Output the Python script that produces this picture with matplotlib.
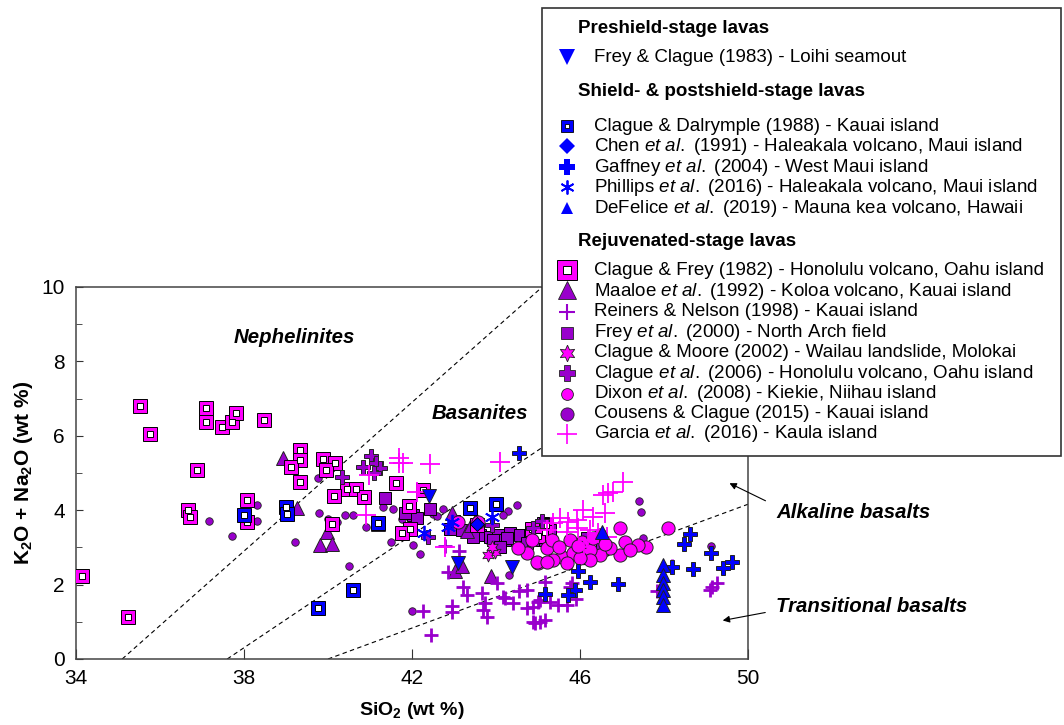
import matplotlib
matplotlib.use("Agg")
import matplotlib.pyplot as plt
from matplotlib.patches import Rectangle

plt.rcParams['font.family'] = ['Liberation Sans', 'DejaVu Sans']
plt.rcParams['mathtext.fontset'] = 'custom'
plt.rcParams['mathtext.rm'] = 'Liberation Sans'
plt.rcParams['mathtext.it'] = 'Liberation Sans:italic'
plt.rcParams['mathtext.bf'] = 'Liberation Sans:bold'

BLUE = '#0000FF'
PURPLE = '#9900CC'
MAGENTA = '#FF00FF'

# ---------------- data (SiO2, K2O+Na2O) ----------------
frey_clague_1983_x = [42.40, 43.10, 44.38]
frey_clague_1983_y = [4.38, 2.58, 2.47]

clague_dalrymple_1988_x = [38.00, 39.00, 39.02, 39.76, 40.60, 43.38, 44.00, 41.19]
clague_dalrymple_1988_y = [3.87, 4.09, 3.90, 1.37, 1.85, 4.06, 4.17, 3.66]

chen_1991_x = [43.55]
chen_1991_y = [3.62]

gaffney_2004_x = [44.55, 48.62, 48.48, 49.12, 49.62, 49.40, 48.69, 48.19, 46.90, 46.24,
                  45.95, 45.88, 45.17, 45.71]
gaffney_2004_y = [5.54, 3.36, 3.09, 2.85, 2.61, 2.45, 2.42, 2.47, 2.02, 2.07,
                  2.37, 1.85, 1.75, 1.72]

phillips_2016_x = [42.29, 42.86, 42.95, 43.90]
phillips_2016_y = [3.39, 3.55, 3.68, 3.82]

defelice_2019_x = [47.98, 47.98, 47.98, 47.98, 47.98, 47.98, 46.52]
defelice_2019_y = [2.53, 2.26, 2.04, 1.85, 1.67, 1.45, 3.41]

clague_frey_1982_x = [34.14, 35.24, 35.52, 35.76, 36.67, 36.71, 36.88, 37.10, 37.10, 37.48,
                      37.71, 37.81, 38.48, 38.07, 38.07, 39.33, 39.33, 39.33, 39.12, 39.88,
                      40.17, 39.95, 40.45, 40.67, 40.86, 40.14, 41.62, 42.26, 40.10, 41.93,
                      41.95, 41.76, 43.55, 45.20, 45.17, 44.85, 45.00]
clague_frey_1982_y = [2.23, 1.13, 6.80, 6.05, 4.00, 3.82, 5.08, 6.75, 6.37, 6.24,
                      6.37, 6.61, 6.42, 4.27, 3.68, 4.76, 5.62, 5.35, 5.16, 5.38,
                      5.27, 5.08, 4.57, 4.57, 4.35, 4.38, 4.73, 4.54, 3.63, 4.11,
                      3.49, 3.38, 3.60, 3.60, 3.41, 3.50, 3.30]

maaloe_1992_x = [38.93, 39.26, 39.98, 39.81, 40.10, 41.19, 42.95, 43.52, 43.31, 43.02,
                 43.20, 43.88, 43.40]
maaloe_1992_y = [5.40, 4.06, 3.41, 3.06, 3.09, 3.63, 3.92, 3.76, 3.44, 2.37,
                 2.50, 2.23, 3.60]

reiners_nelson_1998_x = [43.12, 42.86, 42.79, 43.21, 43.31, 43.67, 43.74, 43.79, 43.69, 42.95,
                         42.95, 42.26, 42.45, 44.02, 44.17, 44.55, 44.74, 44.88, 44.88, 44.21,
                         44.93, 45.17, 45.00, 45.29, 45.48, 45.69, 45.81, 45.17, 44.74, 45.05,
                         45.05, 45.76, 48.19, 47.83, 49.14, 49.26, 49.10, 44.40, 45.90]
reiners_nelson_1998_y = [2.90, 2.34, 3.04, 1.94, 1.72, 1.77, 1.50, 1.13, 1.32, 1.42,
                         1.26, 1.29, 0.65, 2.04, 1.67, 1.83, 1.37, 1.00, 1.40, 1.64,
                         0.97, 1.05, 1.53, 1.53, 1.45, 1.45, 2.04, 2.07, 1.85, 1.59,
                         1.00, 1.94, 2.50, 1.83, 1.94, 2.04, 1.85, 1.50, 1.60]

frey_2000_x = [41.36, 42.43, 42.02, 42.12, 41.83, 43.19, 43.62, 43.86, 44.05, 44.21,
               44.33, 44.57, 44.81, 45.00, 44.74, 43.93, 44.26, 44.88, 44.10, 43.45,
               45.12, 45.29, 46.17, 46.52, 42.90, 43.00]
frey_2000_y = [4.33, 4.03, 3.87, 3.79, 3.92, 3.47, 3.33, 3.28, 3.33, 3.20,
               3.39, 3.33, 3.33, 3.20, 3.12, 3.20, 3.25, 3.20, 3.00, 3.28,
               3.66, 3.47, 3.25, 3.12, 3.50, 3.70]

clague_moore_2002_x = [43.98, 43.81, 43.90]
clague_moore_2002_y = [2.88, 2.80, 3.00]

clague_2006_x = [41.02, 40.83, 41.14, 41.24, 41.10, 40.33, 42.38, 44.88, 45.10, 43.90]
clague_2006_y = [5.46, 5.16, 5.27, 5.13, 5.00, 4.89, 3.28, 3.52, 3.70, 3.60]

dixon_2008_x = [48.10, 47.57, 47.38, 46.95, 47.07, 46.95, 46.71, 46.48, 46.48, 46.24,
                46.05, 45.76, 45.57, 45.36, 45.00, 44.74, 45.21, 45.83, 45.33, 46.24,
                45.69, 43.10, 44.52, 44.98, 43.57, 47.19, 46.00, 45.21, 45.95, 46.31,
                46.60, 44.85, 45.50]
dixon_2008_y = [3.52, 3.00, 3.06, 2.80, 3.15, 3.52, 2.98, 3.33, 2.80, 2.93,
                3.15, 3.20, 2.74, 2.66, 2.58, 2.85, 2.98, 2.85, 3.20, 2.66,
                2.58, 3.68, 2.98, 2.61, 3.68, 2.93, 2.72, 2.61, 3.05, 3.25,
                3.10, 3.20, 3.00]

cousens_clague_2015_x = [37.17, 37.71, 38.31, 38.31, 39.21, 39.76, 39.79, 40.00, 40.40, 40.60,
                         40.50, 41.31, 41.55, 42.74, 42.50, 42.02, 42.20, 41.50, 41.76, 42.00,
                         42.60, 44.29, 44.50, 44.17, 44.30, 47.40, 47.45, 47.50, 49.12, 40.21,
                         40.90]
cousens_clague_2015_y = [3.71, 3.31, 4.14, 3.71, 3.15, 4.87, 3.92, 3.76, 3.87, 3.87,
                         2.50, 4.09, 4.03, 4.03, 3.90, 3.06, 2.82, 3.15, 3.76, 1.29,
                         3.84, 3.98, 4.14, 3.87, 2.26, 4.25, 3.95, 3.25, 3.04, 3.68,
                         3.55]

garcia_2016_x = [41.69, 41.69, 41.79, 42.43, 44.10, 40.98, 40.90, 42.79, 42.12, 47.02,
                 46.67, 46.79, 46.55, 46.60, 46.31, 46.07, 45.93, 45.71, 45.52, 45.36,
                 45.21, 46.43, 46.24, 45.95, 46.64, 45.69, 46.10, 46.20]
garcia_2016_y = [5.40, 5.27, 5.27, 5.24, 5.30, 4.95, 3.87, 3.01, 4.49, 4.76,
                 4.46, 4.50, 4.40, 3.92, 3.82, 4.00, 3.74, 3.68, 3.79, 3.66,
                 3.47, 3.39, 3.47, 3.52, 3.28, 3.41, 3.00, 3.20]

# boundary lines (SiO2, alkali endpoints)
neph_bas_x = [35.10, 46.00]
neph_bas_y = [0.00, 10.90]
bas_alk_x = [37.60, 50.00]
bas_alk_y = [0.00, 9.40]
alk_tra_x = [40.00, 50.00]
alk_tra_y = [0.00, 4.16]

x_ticks = [34, 38, 42, 46, 50]
y_ticks = [0, 2, 4, 6, 8, 10]

# ---------------- figure ----------------
W, H = 1064, 725
fig = plt.figure(figsize=(W / 100, H / 100), dpi=100)
ax = fig.add_axes([76 / W, 1 - 659 / H, (748 - 76) / W, (659 - 287) / H])
ax.set_xlim(34, 50)
ax.set_ylim(0, 10)

for lx, ly in [(neph_bas_x, neph_bas_y), (bas_alk_x, bas_alk_y), (alk_tra_x, alk_tra_y)]:
    ax.plot(lx, ly, ls=(0, (4, 3)), color='black', lw=0.8, zorder=1)


def dsq(x, y, col, outer=9.5, inner=4.3, z=3):
    ax.plot(x, y, 's', ms=outer, mfc=col, mec='black', mew=0.7, ls='none', zorder=z)
    ax.plot(x, y, 's', ms=inner, mfc='white', mec='black', mew=0.7, ls='none', zorder=z)


ax.plot(cousens_clague_2015_x, cousens_clague_2015_y, 'o', ms=5.4, mfc=PURPLE, mec='#222222',
        mew=0.6, ls='none', zorder=2)
ax.plot(frey_2000_x, frey_2000_y, 's', ms=8.2, mfc=PURPLE, mec='black', mew=0.7, ls='none', zorder=3)
ax.plot(maaloe_1992_x, maaloe_1992_y, '^', ms=9.5, mfc=PURPLE, mec='#222222', mew=0.7, ls='none', zorder=3)
dsq(clague_frey_1982_x, clague_frey_1982_y, MAGENTA)
ax.plot(clague_2006_x, clague_2006_y, 'P', ms=10.5, mfc=PURPLE, mec='#222222', mew=0.7, ls='none', zorder=3)
ax.plot(reiners_nelson_1998_x, reiners_nelson_1998_y, '+', ms=9.5, mec=PURPLE, mew=2.0, ls='none', zorder=3)
ax.plot(clague_moore_2002_x, clague_moore_2002_y, marker=(6, 1, 0), ms=9.5, mfc=MAGENTA, mec='#222222',
        mew=0.6, ls='none', zorder=3)
ax.plot(dixon_2008_x, dixon_2008_y, 'o', ms=9.5, mfc=MAGENTA, mec='#222222', mew=0.7, ls='none', zorder=4)
ax.plot(garcia_2016_x, garcia_2016_y, '+', ms=15, mec=MAGENTA, mew=1.3, ls='none', zorder=4)

dsq(clague_dalrymple_1988_x, clague_dalrymple_1988_y, BLUE, z=4)
ax.plot(chen_1991_x, chen_1991_y, 'D', ms=7, mfc=BLUE, mec='black', mew=0.6, ls='none', zorder=4)
ax.plot(frey_clague_1983_x, frey_clague_1983_y, 'v', ms=9.5, mfc=BLUE, mec='#222222', mew=0.7, ls='none', zorder=4)
ax.plot(gaffney_2004_x, gaffney_2004_y, 'P', ms=10.5, mfc=BLUE, mec='#222222', mew=0.7, ls='none', zorder=4)
ax.plot(phillips_2016_x, phillips_2016_y, marker=(6, 2, 0), ms=11, mec=BLUE, mew=1.3, ls='none', zorder=4)
ax.plot(defelice_2019_x, defelice_2019_y, '^', ms=9.5, mfc=BLUE, mec='#222222', mew=0.7, ls='none', zorder=4)

ax.set_xticks(x_ticks)
ax.set_yticks(y_ticks)
ax.set_yticks([1, 3, 5, 7, 9], minor=True)
ax.tick_params(axis='both', which='both', direction='in', labelsize=15, color='#333333')
ax.tick_params(axis='x', which='major', length=7, pad=7)
ax.tick_params(axis='y', which='major', length=5, pad=8)
ax.tick_params(axis='y', which='minor', length=4)
for s in ax.spines.values():
    s.set_color('#444444')
    s.set_linewidth(1.1)

ax.set_xlabel(r'SiO$_\mathbf{2}$ (wt %)', fontsize=14, fontweight='bold', labelpad=9)
ax.set_ylabel(r'K$_\mathbf{2}$O + Na$_\mathbf{2}$O (wt %)', fontsize=15, fontweight='bold', labelpad=5)

ANN = 14.7
ax.text(39.21, 8.63, 'Nephelinites', fontsize=ANN, fontweight='bold', style='italic',
        ha='center', va='center')
ax.text(43.62, 6.59, 'Basanites', fontsize=ANN, fontweight='bold', style='italic',
        ha='center', va='center')

# ---------------- overlay (legend + outside annotations) in pixel coords ----------------
ov = fig.add_axes([0, 0, 1, 1], zorder=10)
ov.set_xlim(0, W)
ov.set_ylim(H, 0)
ov.axis('off')
ov.patch.set_alpha(0)

ov.text(776, 512, 'Alkaline basalts', fontsize=ANN, fontweight='bold', style='italic',
        ha='left', va='center')
ov.text(776, 607, 'Transitional basalts', fontsize=ANN, fontweight='bold', style='italic',
        ha='left', va='center')
ov.annotate('', xy=(727, 482), xytext=(768, 502),
            arrowprops=dict(arrowstyle='-|>', color='black', lw=0.8, mutation_scale=10))
ov.annotate('', xy=(720, 621), xytext=(768, 612),
            arrowprops=dict(arrowstyle='-|>', color='black', lw=0.8, mutation_scale=10))

ov.add_patch(Rectangle((542, 8), 519, 448, facecolor='white', edgecolor='#333333', lw=1.2))

TX = 594
MX = 567
FS = 13.5


def head(y, s):
    ov.text(578, y, s, fontsize=FS, fontweight='bold', ha='left', va='center')


def row(y, parts):
    s = ''.join(p if not it else r'$\it{' + p.replace(' ', r'\ ') + '}$' for p, it in parts)
    ov.text(TX, y, s, fontsize=FS, ha='left', va='center')


head(28, 'Preshield-stage lavas')
ov.plot([MX], [57], 'v', ms=12, mfc=BLUE, mec=BLUE, mew=0)
row(57, [('Frey & Clague (1983) - Loihi seamout', False)])

head(91, 'Shield- & postshield-stage lavas')
ov.plot([MX], [126], 's', ms=8.5, mfc=BLUE, mec='black', mew=0.6)
ov.plot([MX], [126], 's', ms=3.5, mfc='white', mec='black', mew=0.6)
row(126, [('Clague & Dalrymple (1988) - Kauai island', False)])
ov.plot([MX], [146], 'D', ms=8, mfc=BLUE, mec=BLUE, mew=0)
row(146, [('Chen ', False), ('et al.', True), (' (1991) - Haleakala volcano, Maui island', False)])
ov.plot([MX], [167], 'P', ms=12, mfc=BLUE, mec=BLUE, mew=0)
row(167, [('Gaffney ', False), ('et al.', True), (' (2004) - West Maui island', False)])
ov.plot([MX], [187], marker=(6, 2, 0), ms=10, mec=BLUE, mew=1.3)
row(187, [('Phillips ', False), ('et al.', True), (' (2016) - Haleakala volcano, Maui island', False)])
ov.plot([MX], [208], '^', ms=9, mfc=BLUE, mec=BLUE, mew=0)
row(208, [('DeFelice ', False), ('et al.', True), (' (2019) - Mauna kea volcano, Hawaii', False)])

head(241, 'Rejuvenated-stage lavas')
ov.plot([MX], [270], 's', ms=14, mfc=MAGENTA, mec='black', mew=0.7)
ov.plot([MX], [270], 's', ms=6, mfc='white', mec='black', mew=0.7)
row(270, [('Clague & Frey (1982) - Honolulu volcano, Oahu island', False)])
ov.plot([MX], [290], '^', ms=13, mfc=PURPLE, mec='#222222', mew=0.6)
row(291, [('Maaloe ', False), ('et al.', True), (' (1992) - Koloa volcano, Kauai island', False)])
ov.plot([MX], [312], '+', ms=11, mec=PURPLE, mew=1.5)
row(311, [('Reiners & Nelson (1998) - Kauai island', False)])
ov.plot([MX], [333], 's', ms=8.5, mfc=PURPLE, mec='#222222', mew=0.6)
row(332, [('Frey ', False), ('et al.', True), (' (2000) - North Arch field', False)])
ov.plot([MX], [353], marker=(6, 1, 0), ms=12, mfc=MAGENTA, mec='#222222', mew=0.6)
row(352, [('Clague & Moore (2002) - Wailau landslide, Molokai', False)])
ov.plot([MX], [373], 'P', ms=12, mfc=PURPLE, mec='#222222', mew=0.6)
row(373, [('Clague ', False), ('et al.', True), (' (2006) - Honolulu volcano, Oahu island', False)])
ov.plot([MX], [394], 'o', ms=8.5, mfc=MAGENTA, mec='#222222', mew=0.6)
row(393, [('Dixon ', False), ('et al.', True), (' (2008) - Kiekie, Niihau island', False)])
ov.plot([MX], [414], 'o', ms=9.5, mfc=PURPLE, mec='#222222', mew=0.6)
row(413, [('Cousens & Clague (2015) - Kauai island', False)])
ov.plot([MX], [434], '+', ms=15, mec=MAGENTA, mew=1.2)
row(433, [('Garcia ', False), ('et al.', True), (' (2016) - Kaula island', False)])

fig.savefig('out.png', dpi=100)
